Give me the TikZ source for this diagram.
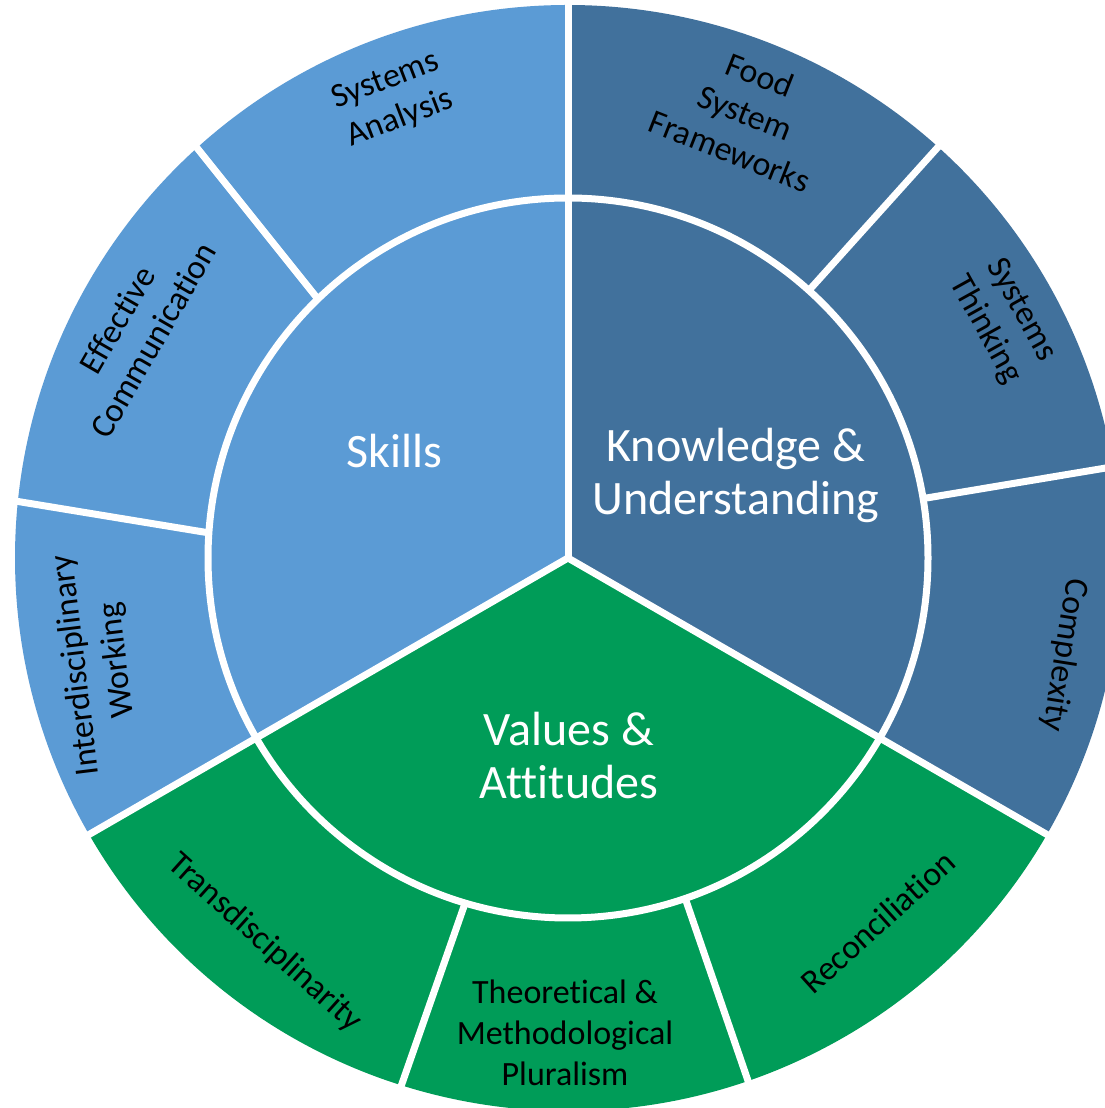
\documentclass[tikz,border=0pt]{standalone}
\usepackage{fontspec}
\setmainfont{Carlito}[Ligatures=NoCommon]
\definecolor{skillblue}{RGB}{91,155,213}
\definecolor{knowblue}{RGB}{65,113,156}
\definecolor{valgreen}{RGB}{0,156,88}
\begin{document}
\begin{tikzpicture}[x=1pt,y=1pt,
  innerlabel/.style={text=white,font=\fontsize{48}{53}\selectfont,align=center,inner sep=0pt},
  outerlabel/.style={text=black,font=\fontsize{34}{41}\selectfont,align=center,inner sep=0pt},
  sepline/.style={draw=white,line width=7pt}]
\useasboundingbox (0,0) rectangle (1105,1108);
\clip (0,0) rectangle (1105,1108);
\fill[white] (0,0) rectangle (1105,1108);
\begin{scope}[shift={(568,550)}]
  % three sectors
  \fill[skillblue] (0,0) -- (90:553) arc[start angle=90,end angle=210,radius=553] -- cycle;
  \fill[valgreen] (0,0) -- (210:553) arc[start angle=210,end angle=330,radius=553] -- cycle;
  \fill[knowblue] (0,0) -- (-30:553) arc[start angle=-30,end angle=90,radius=553] -- cycle;
  % separators
  \draw[sepline] (0,0) circle[radius=360];
  \draw[sepline] (0,0) -- (90:575);
  \draw[sepline] (0,0) -- (210:575);
  \draw[sepline] (0,0) -- (330:575);
  \draw[sepline] (134:360) -- (132:575);
  \draw[sepline] (176:360) -- (174:575);
  \draw[sepline] (253.4:360) -- (252.4:575);
  \draw[sepline] (289:360) -- (289:575);
  \draw[sepline] (9.5:360) -- (9.5:575);
  \draw[sepline] (48:360) -- (48:575);
\end{scope}
% inner labels
\node[innerlabel] (skills) at (394,657) {Skills};
\node[innerlabel] (know) at (736,633) {Knowledge \&\\Understanding};
\node[innerlabel] (values) at (569,352) {Values \&\\Attitudes};
% outer labels
\node[outerlabel,rotate=21] (sysan) at (393,1008) {Systems\\Analysis};
\node[outerlabel,rotate=60] (effcom) at (135,778) {Effective\\Communication};
\node[outerlabel,rotate=97] (interd) at (97,445) {Interdisciplinary\\Working};
\node[outerlabel,rotate=-21.5] (food) at (745,995) {Food\\System\\Frameworks};
\node[outerlabel,rotate=-61] (systh) at (1003,788) {Systems\\Thinking};
\node[outerlabel,rotate=-99] (compl) at (1064,453) {Complexity};
\node[outerlabel,rotate=42] (recon) at (878,186) {Reconciliation};
\node[outerlabel] (theo) at (565,75) {Theoretical \&\\Methodological\\Pluralism};
\node[outerlabel,rotate=-42] (trans) at (265,165) {Transdisciplinarity};
\end{tikzpicture}
\end{document}
